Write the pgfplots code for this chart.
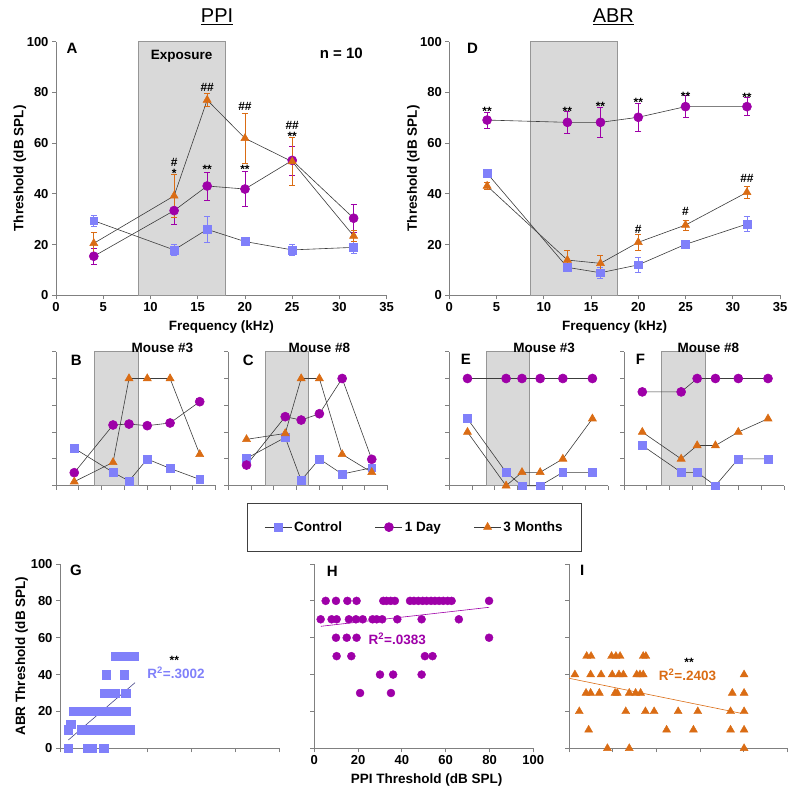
\documentclass[border=0pt]{standalone}
\usepackage{pgfplots}
\pgfplotsset{compat=1.18}
\usepackage{fontspec}
\setmainfont{Liberation Sans}
\definecolor{cctrl}{RGB}{128,128,250}
\definecolor{cday}{RGB}{158,0,168}
\definecolor{cmon}{RGB}{218,108,20}
\definecolor{expo}{RGB}{217,217,217}
\definecolor{expob}{RGB}{150,150,150}
\definecolor{axc}{RGB}{128,128,128}
\definecolor{lnc}{RGB}{60,60,60}
\newcommand{\fs}[1]{\fontsize{#1}{#1}\selectfont\bfseries}
\tikzset{ann/.style={font={\fs{12}}, inner sep=0pt},
  ttl/.style={font={\fs{13.5}}, anchor=base, inner sep=0pt},
  bigttl/.style={font=\fontsize{20}{20}\selectfont, anchor=base, inner sep=0pt}}
\pgfplotsset{
  base/.style={scale only axis, clip=false, axis lines=left,
    axis line style={axc, line width=1pt, -},
    every tick/.style={axc, line width=0.9pt},
    tick align=outside, major tick length=4pt,
    tick label style={font={\fs{13}}},
    label style={font={\fs{13.5}}},
    /pgf/number format/assume math mode=true,
    ymin=0, ymax=100},
  freq/.style={base, xmin=0, xmax=35, xtick={0,5,...,35}, ytick={0,20,...,100}},
  small/.style={freq, xticklabels={}, yticklabels={}, height=134pt},
  big/.style={freq, width=330.7pt, height=253.6pt,
     xlabel={Frequency (kHz)}, ylabel={Threshold (dB SPL)},
     xlabel style={at={(axis description cs:0.5,-0.124)}, anchor=center},
     ylabel style={at={(axis description cs:-0.109,0.5)}, anchor=center}},
  scat/.style={base, xmin=0, xmax=100, xtick={0,20,...,100}, ytick={0,20,...,100}, width=219pt, height=184.3pt},
  ctrl/.style={lnc, line width=0.6pt, mark=square*, mark size=3.9pt, mark options={draw=cctrl, fill=cctrl, solid}},
  day/.style={lnc, line width=0.6pt, mark=*, mark size=4.5pt, mark options={draw=cday, fill=cday, solid}},
  mon/.style={lnc, line width=0.6pt, mark=triangle*, mark size=4.6pt, mark options={draw=cmon, fill=cmon, solid}},
  eb/.style={error bars/.cd, y dir=both, y explicit, error bar style={#1, line width=0.6pt}, error mark options={rotate=90, mark size=3pt, line width=0.6pt, #1}},
  shade/.style={fill=expo, draw=expob, line width=0.8pt, forget plot},
}
\begin{document}
\begin{tikzpicture}
\path[use as bounding box] (0,0) rectangle (800pt,796pt);

% ---------------- A ----------------
\begin{axis}[big, at={(56pt,500.7pt)}, anchor=south west]
\addplot[shade] coordinates {(8.7,0) (8.7,100) (17.95,100) (17.95,0)} \closedcycle;
\addplot[ctrl, eb=cctrl] coordinates {(4,29.4)+-(0,2) (12.5,17.9)+-(0,2.3) (16,26)+-(0,5) (20,21.2)+-(0,1) (25,17.9)+-(0,2.2) (31.5,18.9)+-(0,2.5)};
\addplot[day, eb=cday] coordinates {(4,15.4)+-(0,3) (12.5,33.4)+-(0,5.6) (16,43.1)+-(0,5.5) (20,41.9)+-(0,7) (25,53.2)+-(0,5.7) (31.5,30.4)+-(0,5.6)};
\addplot[mon, eb=cmon] coordinates {(4,20.5)+-(0,4.3) (12.5,39.2)+-(0,8.5) (16,77)+-(0,2.6) (20,61.9)+-(0,9.8) (25,52.7)+-(0,9.5) (31.5,23.4)+-(0,2.3)};
\node[bigttl] at (axis description cs:0.487,1.075) {\underline{PPI}};
\node[font={\fs{15}}, anchor=west] at (axis cs:0.75,97.3) {A};
\node[font={\fs{13.5}}] at (axis cs:13.3,94.1) {Exposure};
\node[font={\fs{15}}] at (axis cs:30.2,95.4) {n = 10};
\node[ann] at (axis cs:12.5,52.3) {\#};
\node[ann] at (axis cs:12.5,48.2) {*};
\node[ann] at (axis cs:16,82) {\#\#};
\node[ann] at (axis cs:16,49.8) {**};
\node[ann] at (axis cs:20,74.6) {\#\#};
\node[ann] at (axis cs:20,49.8) {**};
\node[ann] at (axis cs:25,67) {\#\#};
\node[ann] at (axis cs:25,62.8) {**};
\end{axis}

% ---------------- D ----------------
\begin{axis}[big, at={(449.3pt,500.7pt)}, anchor=south west]
\addplot[shade] coordinates {(8.55,0) (8.55,100) (17.8,100) (17.8,0)} \closedcycle;
\addplot[ctrl, eb=cctrl] coordinates {(4,48.1)+-(0,1.5) (12.5,11)+-(0,1) (16,8.9)+-(0,2) (20,12)+-(0,3) (25,20.1)+-(0,1) (31.5,28.1)+-(0,3)};
\addplot[day, eb=cday] coordinates {(4,69.1)+-(0,3.2) (12.5,68.2)+-(0,4.2) (16,68.2)+-(0,6) (20,70.2)+-(0,5.4) (25,74.4)+-(0,4.3) (31.5,74.4)+-(0,3.5)};
\addplot[mon, eb=cmon] coordinates {(4,43.1)+-(0,1.5) (12.5,13.9)+-(0,4) (16,12.6)+-(0,3) (20,20.9)+-(0,3) (25,27.7)+-(0,2) (31.5,40.6)+-(0,2.5)};
\node[bigttl] at (axis description cs:0.496,1.075) {\underline{ABR}};
\node[font={\fs{15}}, anchor=west] at (axis cs:1.5,97.3) {D};
\node[ann] at (axis cs:4,72.7) {**};
\node[ann] at (axis cs:12.5,72.7) {**};
\node[ann] at (axis cs:16,74.3) {**};
\node[ann] at (axis cs:20,76) {**};
\node[ann] at (axis cs:25,78.6) {**};
\node[ann] at (axis cs:31.5,78) {**};
\node[ann] at (axis cs:20,26) {\#};
\node[ann] at (axis cs:25,33) {\#};
\node[ann] at (axis cs:31.5,45.9) {\#\#};
\end{axis}

% ---------------- B ----------------
\begin{axis}[small, width=159.7pt, at={(56pt,310.3pt)}, anchor=south west]
\addplot[shade] coordinates {(8.4,0) (8.4,100) (18,100) (18,0)} \closedcycle;
\addplot[ctrl] coordinates {(4,27.9) (12.5,10) (16,3.5) (20,19.9) (25,12.9) (31.5,4.7)};
\addplot[day] coordinates {(4,9.7) (12.5,45.3) (16,46) (20,44.8) (25,46.8) (31.5,62.7)};
\addplot[mon] coordinates {(4,3) (12.5,17.4) (16,80) (20,80) (25,80) (31.5,23.4)};
\node[ttl] at (axis description cs:0.666,0.993) {Mouse \#3};
\node[font={\fs{15}}, anchor=west] at (axis cs:2.5,93.8) {B};
\end{axis}

% ---------------- C ----------------
\begin{axis}[small, width=159.4pt, at={(228.3pt,310.3pt)}, anchor=south west]
\addplot[shade] coordinates {(8.06,0) (8.06,100) (17.66,100) (17.66,0)} \closedcycle;
\addplot[ctrl] coordinates {(4,20.4) (12.5,36) (16,4) (20,20) (25,8.7) (31.5,13.4)};
\addplot[day] coordinates {(4,15.4) (12.5,51.5) (16,49) (20,53.7) (25,80) (31.5,19.7)};
\addplot[mon] coordinates {(4,34.6) (12.5,39) (16,80) (20,80) (25,23.4) (31.5,10)};
\node[ttl] at (axis description cs:0.571,0.993) {Mouse \#8};
\node[font={\fs{15}}, anchor=west] at (axis cs:2.4,93.8) {C};
\end{axis}

% ---------------- E ----------------
\begin{axis}[small, width=159pt, at={(449.3pt,310.3pt)}, anchor=south west]
\addplot[shade] coordinates {(8.08,0) (8.08,100) (17.6,100) (17.6,0)} \closedcycle;
\addplot[ctrl] coordinates {(4,50) (12.5,10) (16,0) (20,0) (25,10) (31.5,10)};
\addplot[day] coordinates {(4,80) (12.5,80) (16,80) (20,80) (25,80) (31.5,80)};
\addplot[mon] coordinates {(4,40) (12.5,0) (16,10) (20,10) (25,20) (31.5,50)};
\node[ttl] at (axis description cs:0.597,0.993) {Mouse \#3};
\node[font={\fs{15}}, anchor=west] at (axis cs:1.76,94.3) {E};
\end{axis}

% ---------------- F ----------------
\begin{axis}[small, width=160pt, at={(624pt,310.3pt)}, anchor=south west]
\addplot[shade] coordinates {(8.2,0) (8.2,100) (17.7,100) (17.7,0)} \closedcycle;
\addplot[ctrl] coordinates {(4,30) (12.5,10) (16,10) (20,0) (25,20) (31.5,20)};
\addplot[day] coordinates {(4,70) (12.5,70) (16,80) (20,80) (25,80) (31.5,80)};
\addplot[mon] coordinates {(4,40) (12.5,20) (16,30) (20,30) (25,40) (31.5,50)};
\node[ttl] at (axis description cs:0.527,0.993) {Mouse \#8};
\node[font={\fs{15}}, anchor=west] at (axis cs:1.8,94.3) {F};
\end{axis}

% ---------------- G ----------------
\begin{axis}[scat, width=219.3pt, at={(60pt,47.7pt)}, anchor=south west,
  xticklabels={}, ylabel={ABR Threshold (dB SPL)},
  ylabel style={at={(axis description cs:-0.175,0.5)}, anchor=center},
  legend columns=3,
  legend style={at={(axis description cs:1.617,1.2)}, anchor=center, draw=black!75, line width=0.8pt,
    font={\fs{13.5}}, inner xsep=17pt, inner ysep=16.5pt,
    /tikz/every even column/.append style={column sep=31pt}},
  legend image code/.code={\draw[mark repeat=2, mark phase=2, #1] plot coordinates {(0pt,0pt) (13.5pt,0pt) (27pt,0pt)};}]
\addlegendimage{ctrl}\addlegendentry{Control}
\addlegendimage{day}\addlegendentry{1 Day}
\addlegendimage{mon}\addlegendentry{3 Months}
\addplot[only marks, mark=square*, mark size=4.2pt, mark options={draw=cctrl, fill=cctrl}, forget plot] coordinates {
(3.8,0) (12.3,0) (14.6,0) (20,0)
(4.9,13)
(3.8,10) (9.9,10) (12.4,10) (15.1,10) (17.6,10) (20.2,10) (22.7,10) (25.3,10) (27.8,10) (30.2,10) (32,10)
(6.1,20) (8.6,20) (11.2,20) (13.9,20) (16.4,20) (19.1,20) (21.8,20) (24.4,20) (27.1,20) (30,20)
(20.2,30) (22.6,30) (24.9,30) (30,30)
(21,40) (29.2,40)
(25.2,50) (28.1,50) (31,50) (33.9,50)};
\addplot[cctrl!55!black, line width=0.6pt, forget plot] coordinates {(3.8,4.5) (34.2,35.6)};
\node[font={\fs{13.5}}, text=cctrl] at (axis cs:52.9,41) {R\textsuperscript{2}=.3002};
\node[ann] at (axis cs:52.1,47.8) {**};
\node[font={\fs{15}}, anchor=west] at (axis cs:3,96.4) {G};
\end{axis}

% ---------------- H ----------------
\begin{axis}[scat, width=219pt, at={(314.3pt,47.7pt)}, anchor=south west,
  yticklabels={}, xlabel={PPI Threshold (dB SPL)},
  xlabel style={at={(axis description cs:0.513,-0.172)}, anchor=center}]
\addplot[only marks, mark=*, mark size=4pt, mark options={draw=cday, fill=cday}] coordinates {
(5.2,80) (9.9,80) (15.1,80) (19.3,80) (31.5,80) (33,80) (34.9,80) (36.8,80) (43.7,80) (45.5,80) (47.5,80) (49.5,80) (51.3,80) (53.3,80) (55.1,80) (57,80) (58.9,80) (60.9,80) (62.7,80) (79.8,80)
(2.9,70) (7.9,70) (10.2,70) (15.8,70) (19,70) (22.1,70) (26.6,70) (28.5,70) (31,70) (37.9,70) (49,70) (66,70)
(9.9,60) (14.8,60) (19.3,60) (79.8,60)
(10.2,50) (16.9,50) (50.5,50) (54,50)
(30,40) (36,40) (49,40)
(20.9,30) (35,30)};
\addplot[cday, line width=0.6pt] coordinates {(3,66.2) (79.8,76.5)};
\node[font={\fs{13.5}}, text=cday] at (axis cs:37.9,59.3) {R\textsuperscript{2}=.0383};
\node[font={\fs{15}}, anchor=west] at (axis cs:4.1,95.8) {H};
\end{axis}

% ---------------- I ----------------
\begin{axis}[scat, width=218.3pt, at={(569pt,47.7pt)}, anchor=south west,
  xticklabels={}, yticklabels={}]
\addplot[only marks, mark=triangle*, mark size=4.6pt, mark options={draw=cmon, fill=cmon}] coordinates {
(8.1,50) (10.1,50) (19.5,50) (21.5,50) (23.4,50) (34,50) (35.2,50)
(2.7,40) (9.9,40) (14.7,40) (19.8,40) (22.9,40) (24.9,40) (31,40) (32.5,40) (34,40) (80.2,40)
(7.8,30) (9.9,30) (13.9,30) (21.1,30) (22.1,30) (27.6,30) (30.5,30) (32.8,30) (74.8,30) (80.2,30)
(4.7,20) (26,20) (35,20) (39,20) (50,20) (59,20) (74,20) (80.2,20)
(9,10) (44.7,10) (57,10) (74,10) (80.2,10)
(17.6,0) (27.6,0) (80.2,0)};
\addplot[cmon, line width=0.6pt] coordinates {(0,38) (78.8,19)};
\node[font={\fs{13.5}}, text=cmon] at (axis cs:54.3,39.8) {R\textsuperscript{2}=.2403};
\node[ann] at (axis cs:55,46.6) {**};
\node[font={\fs{15}}, anchor=west] at (axis cs:3.5,96.4) {I};
\end{axis}
\end{tikzpicture}
\end{document}
